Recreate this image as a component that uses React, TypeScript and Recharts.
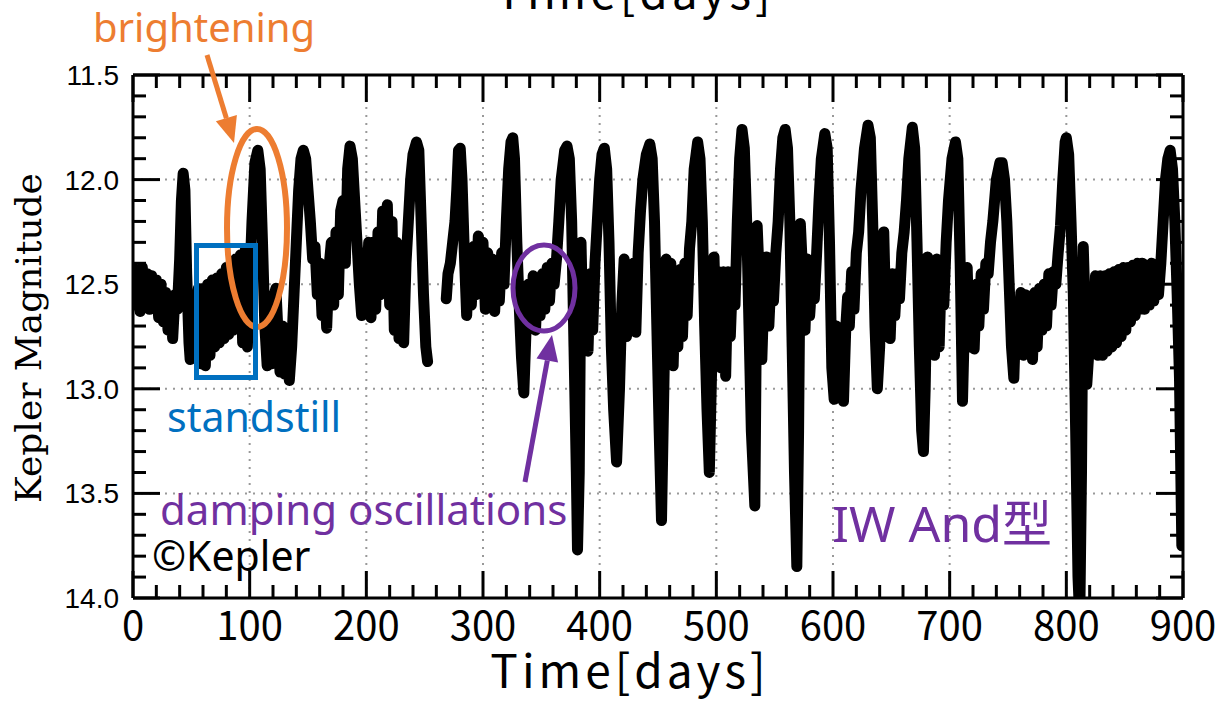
import React from 'react'
import { CartesianGrid, Line, LineChart, XAxis, YAxis } from 'recharts'

// light curve, [day, Kepler mag]; null = gap in the data
const seg0: [number, number | null][] = [
  [0, 12.42], [2, 12.6], [4, 12.44], [6, 12.63], [8, 12.42], [10, 12.58], [12, 12.45], [14, 12.62],
  [16, 12.46], [18, 12.6], [20, 12.48], [22, 12.66], [24, 12.5], [26, 12.68], [28, 12.54], [30, 12.72],
  [32, 12.56], [34, 12.76], [36, 12.55], [38, 12.62], [40, 12.38], [41.5, 12.1], [43, 11.97], [44.5, 12.05],
  [46, 12.45], [48, 12.78], [49, 12.86], [51, 12.8], [52, 12.55], [54, 12.85], [56, 12.52], [58, 12.88],
  [60, 12.52], [62, 12.89], [64, 12.5], [66, 12.84], [68, 12.48], [70, 12.8], [72, 12.47], [74, 12.78],
  [76, 12.45], [78, 12.76], [80, 12.42], [82, 12.74], [84, 12.4], [86, 12.72], [88, 12.38], [90, 12.7],
  [92, 12.36], [94, 12.78], [96, 12.34], [98, 12.8],
]
const seg100: [number, number | null][] = [
  [100, 12.5], [102, 12.2], [104.5, 11.92], [107, 11.86], [109, 11.95], [111, 12.3], [113, 12.7], [115, 12.89],
  [117, 12.7], [119, 12.88], [121, 12.55], [122.5, 12.52], [124, 12.7], [126, 12.92], [128, 12.7], [130, 12.93],
  [132, 12.75], [134, 12.96], [136, 12.8], [138, 12.55], [140, 12.3], [142, 12.05], [144, 11.9], [146, 11.86],
  [148, 11.9], [150, 12.05], [152, 12.2], [154, 12.38], [156, 12.32], [158, 12.55], [160, 12.4], [162, 12.65],
  [164, 12.45], [166, 12.71], [168, 12.42], [170, 12.3], [172, 12.6], [174, 12.25], [176, 12.55], [178, 12.15],
  [180, 12.1], [182, 12.4], [184, 11.95], [186, 11.84], [188, 11.9], [190, 12.1], [192, 12.3], [194, 12.5],
  [196, 12.65], [198, 12.35],
]
const seg200: [number, number | null][] = [
  [200, 12.62], [202, 12.3], [204, 12.66], [206, 12.3], [208, 12.62], [210, 12.25], [212, 12.55], [214, 12.15],
  [216, 12.5], [218, 12.12], [220, 12.6], [222, 12.2], [224, 12.72], [226, 12.3], [228, 12.76], [230, 12.55],
  [232, 12.78], [234, 12.4], [236, 12.2], [238, 12.0], [240, 11.88], [243, 11.82], [245, 11.86], [247, 12.2],
  [249, 12.55], [251, 12.8], [252.5, 12.87], [260, null], [268.5, 12.57], [270, 12.45], [272, 12.4], [274, 12.3],
  [276, 12.2], [277.5, 12.05], [279, 11.86], [280.5, 11.85], [282, 12.0], [284, 12.35], [286, 12.65], [288, 12.4],
  [290, 12.6], [292, 12.32], [294, 12.55], [296, 12.27], [298, 12.5],
]
const seg300: [number, number | null][] = [
  [300, 12.3], [302, 12.62], [304, 12.35], [306, 12.6], [308, 12.38], [310, 12.63], [312, 12.4], [314, 12.58],
  [316, 12.35], [318, 12.5], [320, 12.2], [322, 11.95], [324, 11.82], [325.5, 11.8], [327, 11.9], [329, 12.3],
  [331, 12.6], [333, 12.85], [335, 13.02], [337, 12.7], [339, 12.5], [341, 12.7], [343, 12.46], [345, 12.72],
  [347, 12.47], [349, 12.65], [351, 12.45], [353, 12.62], [355, 12.42], [357, 12.58], [359, 12.4], [361, 12.5],
  [363, 12.38], [365, 12.2], [367, 12.0], [370, 11.86], [372, 11.84], [374, 11.9], [376, 12.2], [378, 12.8],
  [380, 13.4], [381, 13.77], [382.5, 13.4], [384, 12.3], [386, 12.8], [388, 12.48], [390, 12.82], [392, 12.45],
  [394, 12.72], [396, 12.4], [398, 12.2],
]
const seg400: [number, number | null][] = [
  [400, 12.0], [402, 11.88], [404, 11.85], [406, 11.95], [408, 12.3], [410, 12.8], [412, 13.1], [414.5, 13.35],
  [417, 13.0], [419, 12.6], [421, 12.38], [423, 12.75], [425, 12.42], [427, 12.72], [429, 12.4], [431, 12.73],
  [433, 12.35], [435, 12.15], [437, 12.0], [440, 11.88], [443, 11.83], [445, 11.9], [447, 12.2], [449, 12.7],
  [451, 13.2], [453, 13.63], [455, 13.0], [457, 12.38], [459, 12.85], [461, 12.4], [463, 12.89], [465, 12.45],
  [467, 12.8], [469, 12.43], [471, 12.75], [473, 12.4], [475, 12.65], [477, 12.33], [479, 12.2], [481, 11.95],
  [484, 11.82], [486, 11.9], [488, 12.2], [490, 12.7], [492, 13.1], [494, 13.4], [496, 12.9], [498, 12.37],
]
const seg500: [number, number | null][] = [
  [500, 12.8], [502, 12.44], [504, 12.9], [506, 12.44], [508, 12.94], [510, 12.44], [512, 12.75], [514, 12.44],
  [516, 12.6], [518, 12.2], [520, 11.9], [522, 11.76], [524, 11.85], [526, 12.2], [528, 12.7], [530, 13.2],
  [533, 13.56], [535, 12.22], [537, 12.5], [539, 12.86], [541, 12.5], [543, 12.37], [545, 12.7], [547, 12.45],
  [549, 12.58], [551, 12.35], [553, 12.2], [555, 11.95], [557, 11.8], [559, 11.76], [561, 11.85], [563, 12.2],
  [565, 12.8], [567, 13.4], [569, 13.85], [570.5, 13.2], [572, 12.21], [574, 12.45], [576, 12.72], [578, 12.38],
  [580, 12.65], [582, 12.48], [584, 12.57], [586, 12.35], [588, 12.1], [590, 11.9], [593, 11.78], [595, 11.85],
  [597, 12.3], [599, 12.9],
]
const seg600: [number, number | null][] = [
  [601, 13.05], [603, 12.7], [605, 13.0], [607, 12.78], [609, 13.06], [611, 12.7], [612.5, 12.56], [614, 12.7],
  [616, 12.44], [618, 12.62], [620, 12.35], [622, 12.25], [624, 12.05], [627, 11.85], [630, 11.74], [632, 11.8],
  [634, 12.2], [636, 12.7], [638, 13.0], [640, 12.8], [642, 12.3], [643.5, 12.25], [645, 12.6], [647, 12.5],
  [649, 12.76], [651, 12.45], [653, 12.65], [655, 12.45], [657, 12.57], [659, 12.35], [661, 12.25], [663, 12.1],
  [665, 11.9], [668, 11.75], [670, 11.85], [672, 12.3], [674, 12.8], [676, 13.2], [677.5, 13.3], [679, 13.0],
  [681, 12.37], [683, 12.8], [685, 12.45], [687, 12.84], [689, 12.38], [691, 12.8], [693, 12.4], [695, 12.6],
  [697, 12.3], [699, 12.1],
]
const seg700: [number, number | null][] = [
  [702, 11.9], [705, 11.82], [707, 11.9], [709, 12.4], [711, 13.06], [713, 12.6], [715, 12.42], [717, 12.8],
  [719, 12.55], [721, 12.81], [723, 12.5], [725, 12.7], [727, 12.45], [729, 12.62], [731, 12.4], [733, 12.45],
  [735, 12.3], [737, 12.2], [740, 12.0], [743, 11.92], [745, 11.92], [747, 12.0], [749, 12.2], [751, 12.5],
  [753, 12.8], [755, 12.95], [757, 12.6], [759, 12.8], [761, 12.54], [763, 12.84], [765, 12.55], [767, 12.8],
  [769, 12.56], [771, 12.86], [773, 12.54], [775, 12.8], [777, 12.52], [779, 12.72], [781, 12.5], [783, 12.7],
  [785, 12.45], [787, 12.6], [789, 12.44], [791, 12.5], [793, 12.35], [795, 12.22], [797, 12.0], [799, 11.82],
]
const seg800: [number, number | null][] = [
  [800, 11.8], [802, 11.88], [804, 12.2], [806, 12.55], [808, 13.2], [810, 13.9], [811.5, 14.1], [813, 13.4],
  [814.5, 12.32], [816, 12.6], [817.5, 12.98], [819, 12.85], [821, 12.57], [823, 12.8], [825, 12.46], [827, 12.84],
  [829, 12.46], [831, 12.84], [833, 12.46], [835, 12.82], [837, 12.45], [839, 12.8], [841, 12.44], [843, 12.78],
  [845, 12.43], [847, 12.75], [849, 12.42], [851, 12.72], [853, 12.42], [855, 12.68], [857, 12.41], [859, 12.65],
  [861, 12.4], [863, 12.62], [865, 12.4], [867, 12.62], [869, 12.41], [871, 12.6], [873, 12.4], [875, 12.58],
  [877, 12.42], [879, 12.55], [881, 12.4], [883, 12.2], [885, 12.0], [887, 11.9], [889, 11.86], [891, 11.95],
  [893, 12.2], [895, 12.55], [897, 12.95], [899, 13.75],
]

const xMajor = [0, 100, 200, 300, 400, 500, 600, 700, 800, 900]
const xMinor = [
  20, 40, 60, 80, 120, 140, 160, 180, 220, 240, 260, 280, 320, 340, 360, 380, 420, 440, 460, 480,
  520, 540, 560, 580, 620, 640, 660, 680, 720, 740, 760, 780, 820, 840, 860, 880,
]
const yMajor = [11.5, 12.0, 12.5, 13.0, 13.5, 14.0]
const yMinor = [
  11.6, 11.7, 11.8, 11.9, 12.1, 12.2, 12.3, 12.4, 12.6, 12.7, 12.8, 12.9, 13.1, 13.2, 13.3, 13.4,
  13.6, 13.7, 13.8, 13.9,
]

const data = [seg0, seg100, seg200, seg300, seg400, seg500, seg600, seg700, seg800]
  .flat()
  .map(([day, mag]) => ({ day, mag }))

const W = 1225
const H = 707
const M = { top: 74, right: 41, bottom: 108, left: 132 } // +1px axis size on each side
const PL = M.left + 1
const PT = M.top + 1
const PR = W - M.right - 1
const PB = H - M.bottom - 1
const XDOM: [number, number] = [0, 900]
const YDOM: [number, number] = [11.5, 14]
// same linear mapping the chart uses, for the inward tick marks drawn on top
const sx = (d: number) => PL + ((d - XDOM[0]) / (XDOM[1] - XDOM[0])) * (PR - PL)
const sy = (m: number) => PT + ((m - YDOM[0]) / (YDOM[1] - YDOM[0])) * (PB - PT)

const ORANGE = '#ED7D31'
const BLUE = '#0070C0'
const PURPLE = '#7030A0'
const annoFont = "'Noto Sans', 'Noto Sans CJK JP', sans-serif"
const frame = { stroke: '#000', strokeWidth: 3 }

function Arrow({ x1, y1, x2, y2, color }: any) {
  const len = Math.hypot(x2 - x1, y2 - y1)
  const ux = (x2 - x1) / len
  const uy = (y2 - y1) / len
  const head = 26
  const half = 11
  const bx = x2 - ux * head
  const by = y2 - uy * head
  const pts = `${x2},${y2} ${bx - uy * half},${by + ux * half} ${bx + uy * half},${by - ux * half}`
  return (
    <g>
      <line x1={x1} y1={y1} x2={bx} y2={by} stroke={color} strokeWidth={5} />
      <polygon points={pts} fill={color} />
    </g>
  )
}

// short inward marks on all four sides: 13px every 20 days / 0.1 mag, 27px at the labelled values
function InwardTicks() {
  const marks: React.ReactElement[] = []
  const tick = (key: string, x1: number, y1: number, x2: number, y2: number) =>
    marks.push(<line key={key} x1={x1} y1={y1} x2={x2} y2={y2} stroke="#000" strokeWidth={3} />)
  ;[...xMinor.map(v => [v, 13]), ...xMajor.map(v => [v, 27])].forEach(([v, len]) => {
    const x = sx(v)
    tick(`b${v}`, x, PB, x, PB - len)
    tick(`t${v}`, x, PT, x, PT + len)
  })
  ;[...yMinor.map(v => [v, 13]), ...yMajor.map(v => [v, 27])].forEach(([v, len]) => {
    const y = sy(v)
    tick(`l${v}`, PL, y, PL + len, y)
    tick(`r${v}`, PR, y, PR - len, y)
  })
  return <g>{marks}</g>
}

export default function App() {
  return (
    <div style={{ position: 'absolute', left: 0, top: 0, width: W, height: H, background: '#fff' }}>
      <LineChart width={W} height={H} data={data} margin={M}>
        <CartesianGrid stroke="#999" strokeWidth={2} strokeDasharray="2 6" />

        <XAxis
          dataKey="day"
          type="number"
          domain={XDOM}
          allowDataOverflow
          ticks={xMajor}
          interval={0}
          height={1}
          tickLine={false}
          tickSize={0}
          tickMargin={14}
          axisLine={frame}
          tick={{ fill: '#000', fontSize: 40, fontFamily: "'Noto Sans CJK JP', sans-serif" }}
        />
        <YAxis
          type="number"
          domain={YDOM}
          reversed
          allowDataOverflow
          ticks={yMajor}
          interval={0}
          width={1}
          tickLine={false}
          tickSize={0}
          tickMargin={14}
          tickFormatter={(v: number) => v.toFixed(1)}
          axisLine={frame}
          tick={{ fill: '#000', fontSize: 28, fontFamily: "'Liberation Sans', Arial, sans-serif" }}
        />
        <XAxis xAxisId="top" orientation="top" type="number" domain={XDOM} ticks={xMajor} height={1} tick={false} tickLine={false} axisLine={frame} />
        <YAxis yAxisId="right" orientation="right" type="number" domain={YDOM} reversed ticks={yMajor} width={1} tick={false} tickLine={false} axisLine={frame} />

        <Line
          dataKey="mag"
          stroke="#000"
          strokeWidth={11}
          strokeLinejoin="round"
          strokeLinecap="round"
          dot={false}
          connectNulls={false}
          isAnimationActive={false}
        />
      </LineChart>

      <svg width={W} height={H} style={{ position: 'absolute', left: 0, top: 0, pointerEvents: 'none' }}>
        <InwardTicks />

        {/* axis titles (the upper one is cut off by the page edge, as in the source) */}
        <text x={635} y={9} textAnchor="middle" fontSize={46} letterSpacing={4} fontFamily="'Noto Sans CJK JP', sans-serif" fill="#000">
          Time[days]
        </text>
        <text x={630} y={688} textAnchor="middle" fontSize={46} letterSpacing={4} fontFamily="'Noto Sans CJK JP', sans-serif" fill="#000">
          Time[days]
        </text>
        <text
          transform="translate(41,338) rotate(-90)"
          textAnchor="middle"
          fontSize={36}
          fontFamily="'DejaVu Serif', serif"
          fill="#000"
        >
          Kepler Magnitude
        </text>

        {/* annotations */}
        <text x={93} y={42} fontSize={40} fontFamily={annoFont} fill={ORANGE}>brightening</text>
        <Arrow x1={207} y1={55} x2={234} y2={143} color={ORANGE} />
        <ellipse cx={257} cy={228} rx={30} ry={99} fill="none" stroke={ORANGE} strokeWidth={6} />

        <rect x={196.5} y={245.5} width={59} height={132} fill="none" stroke={BLUE} strokeWidth={5} />
        <text x={167} y={432} fontSize={41} fontFamily={annoFont} fill={BLUE}>standstill</text>

        <ellipse cx={544} cy={288} rx={31} ry={43} fill="none" stroke={PURPLE} strokeWidth={5} />
        <Arrow x1={525} y1={482} x2={552} y2={335} color={PURPLE} />
        <text x={160} y={525} fontSize={42} fontFamily={annoFont} fill={PURPLE}>damping oscillations</text>

        <text x={152} y={571} fontSize={41} fontFamily={annoFont} fill="#000">©Kepler</text>
        <text x={832} y={542} fontSize={50} fontFamily={annoFont} fill={PURPLE}>IW And型</text>
      </svg>
    </div>
  )
}
